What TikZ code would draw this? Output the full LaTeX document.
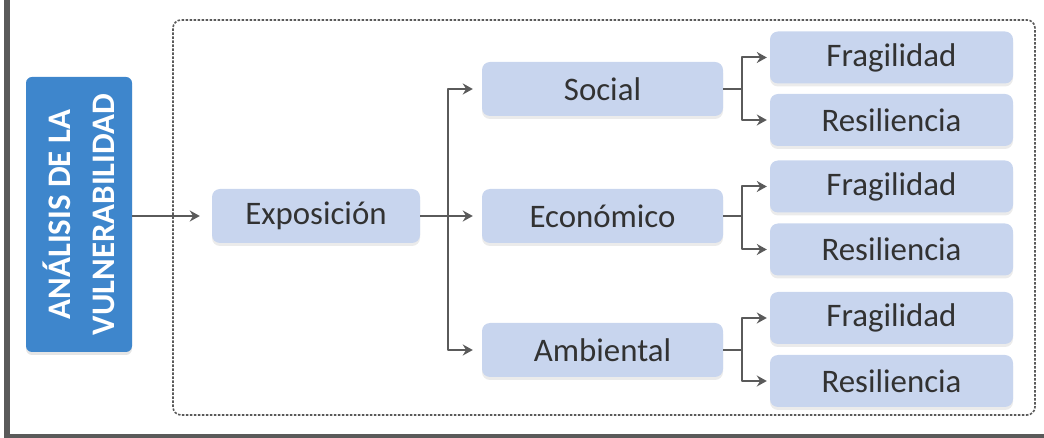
\documentclass[tikz,border=0pt]{standalone}
\usepackage{fontspec}
\setmainfont{Carlito}
\usetikzlibrary{arrows.meta,shadows}
\definecolor{boxblue}{RGB}{200,213,238}
\definecolor{titleblue}{RGB}{62,134,204}
\definecolor{linegray}{RGB}{90,90,90}
\definecolor{textgray}{RGB}{50,50,50}
\tikzset{
  itembox/.style={rounded corners=8bp,fill=boxblue,draw=none,text=textgray,
    font=\fontsize{33}{36}\selectfont,inner sep=0pt,
    drop shadow={shadow xshift=0bp,shadow yshift=-3bp,opacity=0.08,fill=black}},
  titlebox/.style={rounded corners=6bp,fill=titleblue,draw=none,text=white,
    font=\bfseries\fontsize{33}{44}\selectfont,align=center,rotate=90,inner sep=0pt,
    drop shadow={shadow xshift=0bp,shadow yshift=-3bp,opacity=0.1,fill=black}},
  link/.style={linegray,line width=2bp},
}
\begin{document}
\begin{tikzpicture}[>={Stealth[length=10bp,width=11bp]},line join=bevel,]
\useasboundingbox (0bp,0bp) rectangle (1044bp,438bp);
%% frame
\fill [linegray] (4bp,0bp) rectangle (10bp,438bp);
\fill [linegray] (4bp,0bp) rectangle (1044bp,4bp);
\draw [linegray,line width=1.6bp,dash pattern=on 2.5bp off 1.5bp,rounded corners=8bp] (173bp,23bp) rectangle (1035bp,418bp);
%%
\node (node_0) at (79bp,223.5bp) [titlebox,minimum width=275bp,minimum height=106bp] {ANÁLISIS DE LA\\VULNERABILIDAD};
  \node (node_1) at (316bp,222bp) [itembox,minimum width=208bp,minimum height=54bp] {Exposición};
  \node (node_2) at (602.5bp,349bp) [itembox,minimum width=241bp,minimum height=54bp] {Social};
  \node (node_3) at (602.5bp,222bp) [itembox,minimum width=241bp,minimum height=54bp] {Económico};
  \node (node_4) at (602.5bp,88bp) [itembox,minimum width=241bp,minimum height=54bp] {Ambiental};
  \node (node_5) at (891.5bp,380.5bp) [itembox,minimum width=243bp,minimum height=52bp] {Fragilidad};
  \node (node_6) at (891.5bp,318bp) [itembox,minimum width=243bp,minimum height=52bp] {Resiliencia};
  \node (node_7) at (891.5bp,251.5bp) [itembox,minimum width=243bp,minimum height=52bp] {Fragilidad};
  \node (node_8) at (891.5bp,188.5bp) [itembox,minimum width=243bp,minimum height=52bp] {Resiliencia};
  \node (node_9) at (891.5bp,120bp) [itembox,minimum width=243bp,minimum height=52bp] {Fragilidad};
  \node (node_10) at (891.5bp,57bp) [itembox,minimum width=243bp,minimum height=52bp] {Resiliencia};
%
\coordinate (fork_0) at (448bp,222bp);
  \draw [link,->,shorten >=12bp] (node_1 -| node_0.south) -- (node_1);
  \draw [link,->,shorten >=9bp] (node_1) -- (node_3);
  \draw [link,->,shorten >=9bp] (fork_0) |- (node_2);
  \draw [link,->,shorten >=9bp] (fork_0) |- (node_4);
%
\draw [link] (node_2.east) -- ++(19bp,0bp) coordinate (fork_1);
  \draw [link,->,shorten >=3bp] (fork_1) |- (node_5);
  \draw [link,->,shorten >=3bp] (fork_1) |- (node_6);
  \draw [link] (node_3.east) -- ++(19bp,0bp) coordinate (fork_2);
  \draw [link,->,shorten >=3bp] (fork_2) |- (node_7);
  \draw [link,->,shorten >=3bp] (fork_2) |- (node_8);
  \draw [link] (node_4.east) -- ++(19bp,0bp) coordinate (fork_3);
  \draw [link,->,shorten >=3bp] (fork_3) |- (node_9);
  \draw [link,->,shorten >=3bp] (fork_3) |- (node_10);
%
\end{tikzpicture}
\end{document}
